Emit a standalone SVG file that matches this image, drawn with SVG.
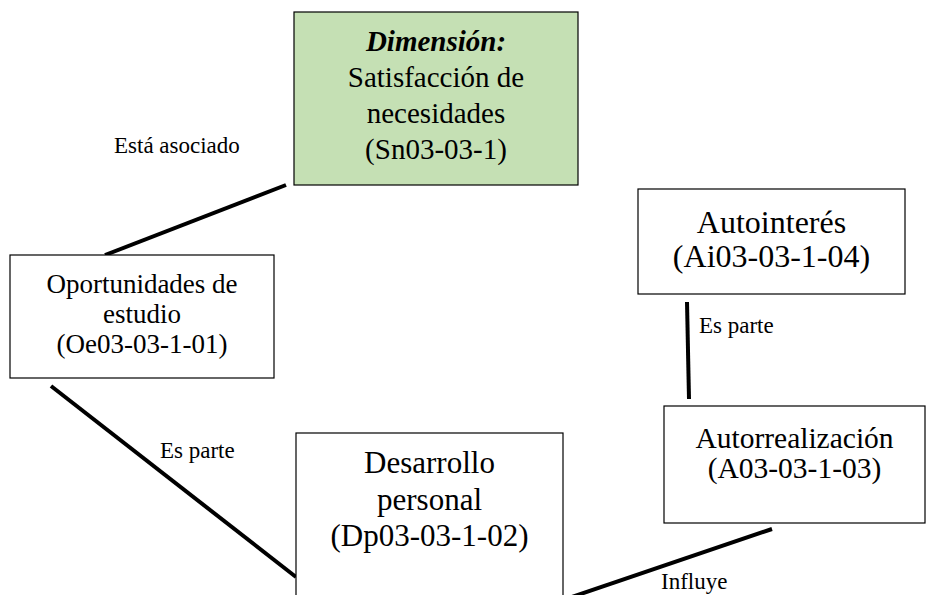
<svg xmlns="http://www.w3.org/2000/svg" width="927" height="595" viewBox="0 0 927 595">
<style>
.box{fill:#ffffff;stroke:#000000;stroke-width:1.2}
.green{fill:#c5e0b4}
.t{fill:#000;text-anchor:middle}
.lbl{fill:#000;font-size:23px}
.con{stroke:#000;stroke-width:4;stroke-linecap:butt;fill:none}
</style>
<rect width="927" height="595" fill="#ffffff"/>
<g font-family="Liberation Serif, Times New Roman, DejaVu Serif, serif">
<g id="connectors">
<line class="con" x1="286" y1="185" x2="105" y2="255"/>
<line class="con" x1="51" y1="386" x2="296" y2="577"/>
<line class="con" x1="560" y1="601" x2="772" y2="529"/>
<line class="con" x1="687" y1="302" x2="689" y2="399"/>
<text class="lbl" x="114" y="153" font-size="24">Está asociado</text>
<text class="lbl" x="160" y="458" font-size="24">Es parte</text>
<text class="lbl" x="699" y="333" font-size="22">Es parte</text>
<text class="lbl" x="661" y="589">Influye</text>
</g>
<g id="n-dimension">
<rect class="box green" x="294" y="12" width="284" height="173"/>
<text class="t" x="436" y="51" font-size="29" font-weight="bold" font-style="italic">Dimensión:</text>
<text class="t" x="436" y="87" font-size="29">Satisfacción de</text>
<text class="t" x="436" y="123" font-size="29">necesidades</text>
<text class="t" x="436" y="159" font-size="29">(Sn03-03-1)</text>
</g>
<g id="n-oportunidades">
<rect class="box" x="10" y="255" width="264" height="123"/>
<text class="t" x="142" y="293" font-size="27">Oportunidades de</text>
<text class="t" x="142" y="323" font-size="27">estudio</text>
<text class="t" x="142" y="353" font-size="27">(Oe03-03-1-01)</text>
</g>
<g id="n-desarrollo">
<rect class="box" x="296" y="433" width="267" height="170"/>
<text class="t" x="429.5" y="473" font-size="31">Desarrollo</text>
<text class="t" x="429.5" y="510" font-size="31">personal</text>
<text class="t" x="429.5" y="546" font-size="31">(Dp03-03-1-02)</text>
</g>
<g id="n-autointeres">
<rect class="box" x="638" y="189" width="267" height="105"/>
<text class="t" x="771.5" y="233" font-size="32">Autointerés</text>
<text class="t" x="771.5" y="267" font-size="32">(Ai03-03-1-04)</text>
</g>
<g id="n-autorrealizacion">
<rect class="box" x="664" y="406" width="261" height="117"/>
<text class="t" x="794.5" y="448" font-size="29.5">Autorrealización</text>
<text class="t" x="794.5" y="478" font-size="29.5">(A03-03-1-03)</text>
</g>
</g>
</svg>
